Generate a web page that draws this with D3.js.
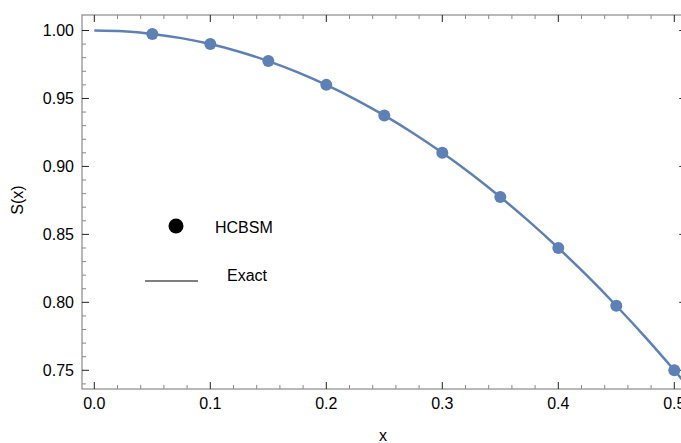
<!DOCTYPE html>
<html>
<head>
<meta charset="utf-8">
<script src="https://cdn.jsdelivr.net/npm/d3@7"></script>
<style>
  body { margin: 0; background: #fff; }
  text { font-family: "Liberation Sans", Arial, sans-serif; }
</style>
</head>
<body>
<div id="chart"></div>
<script>
// HCBSM points
var hcbsm_x = [0.05, 0.10, 0.15, 0.20, 0.25, 0.30, 0.35, 0.40, 0.45, 0.50];
var hcbsm_s = [0.9975, 0.99, 0.9775, 0.96, 0.9375, 0.91, 0.8775, 0.84, 0.7975, 0.75];
// exact curve samples
var exact_x = [0.0, 0.025, 0.05, 0.075, 0.10, 0.125, 0.15, 0.175, 0.20, 0.225, 0.25, 0.275, 0.30, 0.325, 0.35, 0.375, 0.40, 0.425, 0.45, 0.475, 0.50, 0.51];
var exact_s = [1.0, 0.9994, 0.9975, 0.9944, 0.99, 0.9844, 0.9775, 0.9694, 0.96, 0.9494, 0.9375, 0.9244, 0.91, 0.8944, 0.8775, 0.8594, 0.84, 0.8194, 0.7975, 0.7744, 0.75, 0.7399];
var x_ticks = [0.0, 0.1, 0.2, 0.3, 0.4, 0.5];
var y_ticks = [0.75, 0.80, 0.85, 0.90, 0.95, 1.00];

var width = 681, height = 443;
var blue = '#5e81b5';

var svg = d3.select('#chart').append('svg')
    .attr('width', width)
    .attr('height', height);

var x = d3.scaleLinear().domain([0, 0.5]).range([94.3, 674.3]);
var y = d3.scaleLinear().domain([0.75, 1.0]).range([370.3, 30.5]);

var f_left = 82, f_right = x(0.5103), f_top = 15, f_bottom = 389;

// clip for the plot area
svg.append('clipPath').attr('id', 'clip')
  .append('rect').attr('x', f_left).attr('y', f_top)
  .attr('width', f_right - f_left).attr('height', f_bottom - f_top);

// frame
svg.append('rect')
    .attr('x', f_left).attr('y', f_top)
    .attr('width', f_right - f_left).attr('height', f_bottom - f_top)
    .attr('fill', 'none')
    .attr('stroke', '#8a8a8a')
    .attr('stroke-width', 1.2);

// x ticks, bottom and top
d3.range(0, 51, 2).map(function(d) { return d / 100; }).forEach(function(v) {
  var major = Math.abs(v * 10 - Math.round(v * 10)) < 1e-6;
  var len = major ? 7 : 4;
  [f_bottom, f_top].forEach(function(edge, k) {
    svg.append('line')
      .attr('x1', x(v)).attr('x2', x(v))
      .attr('y1', edge).attr('y2', k == 0 ? edge - len : edge + len)
      .attr('stroke', major ? '#222' : '#888')
      .attr('stroke-width', 1);
  });
});
// y ticks, left and right
d3.range(74, 101).map(function(d) { return d / 100; }).forEach(function(v) {
  var major = Math.abs(v * 20 - Math.round(v * 20)) < 1e-6;
  var len = major ? 7 : 4;
  [f_left, f_right].forEach(function(edge, k) {
    svg.append('line')
      .attr('x1', edge).attr('x2', k == 0 ? edge + len : edge - len)
      .attr('y1', y(v)).attr('y2', y(v))
      .attr('stroke', major ? '#222' : '#888')
      .attr('stroke-width', 1);
  });
});

// tick labels
x_ticks.forEach(function(v) {
  svg.append('text')
    .attr('x', x(v)).attr('y', 408.5)
    .attr('text-anchor', 'middle')
    .style('font-size', '16px')
    .text(d3.format('.1f')(v));
});
y_ticks.forEach(function(v) {
  svg.append('text')
    .attr('x', 74).attr('y', y(v) + 5.5)
    .attr('text-anchor', 'end')
    .style('font-size', '16px')
    .text(d3.format('.2f')(v));
});

// axis labels
svg.append('text')
  .attr('x', 383).attr('y', 441)
  .attr('text-anchor', 'middle')
  .style('font-size', '16px')
  .text('x');
svg.append('text')
  .attr('transform', 'translate(23,200) rotate(-90)')
  .attr('text-anchor', 'middle')
  .style('font-size', '16px')
  .text('S(x)');

// exact curve
var plot = svg.append('g').attr('clip-path', 'url(#clip)');
plot.append('path')
  .datum(d3.zip(exact_x, exact_s))
  .attr('d', d3.line()
    .curve(d3.curveCatmullRom)
    .x(function(d) { return x(d[0]); })
    .y(function(d) { return y(d[1]); }))
  .attr('fill', 'none')
  .attr('stroke', blue)
  .attr('stroke-width', 2.5);

// HCBSM points
plot.selectAll('circle.pt')
  .data(d3.zip(hcbsm_x, hcbsm_s))
  .enter().append('circle')
  .attr('class', 'pt')
  .attr('cx', function(d) { return x(d[0]); })
  .attr('cy', function(d) { return y(d[1]); })
  .attr('r', 6)
  .attr('fill', blue);

// legend
svg.append('circle')
  .attr('cx', 176).attr('cy', 226).attr('r', 7.5)
  .attr('fill', '#000');
svg.append('text')
  .attr('x', 215).attr('y', 232.5)
  .style('font-size', '16px')
  .text('HCBSM');
svg.append('line')
  .attr('x1', 145).attr('x2', 198)
  .attr('y1', 281).attr('y2', 281)
  .attr('stroke', '#000').attr('stroke-width', 1);
svg.append('text')
  .attr('x', 227).attr('y', 280.5)
  .style('font-size', '16px')
  .text('Exact');
</script>
</body>
</html>
